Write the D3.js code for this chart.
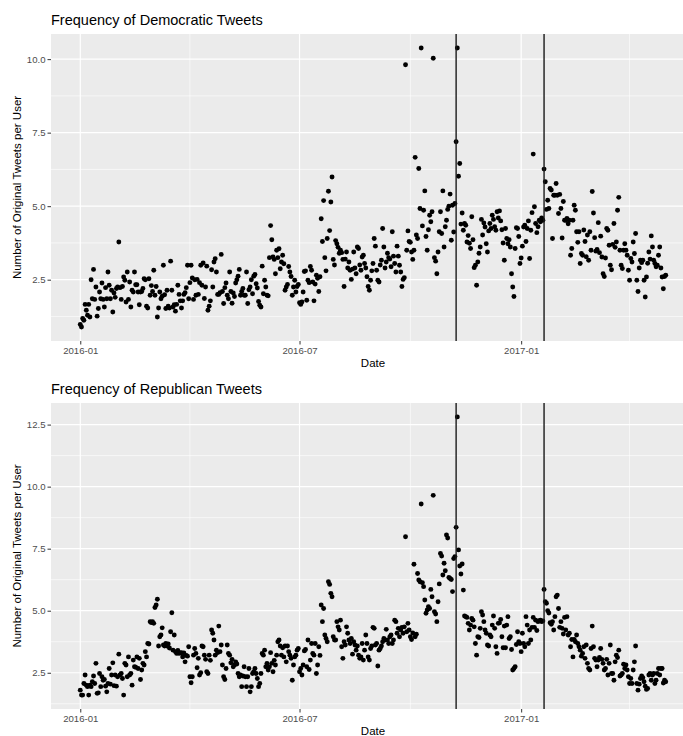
<!DOCTYPE html>
<html>
<head>
<meta charset="utf-8">
<script src="https://cdn.jsdelivr.net/npm/d3@7"></script>
<style>
  body { margin: 0; background: #fff; }
  svg { display: block; font-family: "Liberation Sans", Arial, sans-serif; }
</style>
</head>
<body>
<svg id="chart" width="683" height="736"></svg>
<script>
// one value per day, starting at startDate
const startDate = '2016-01-01';
const eventDates = ['2016-11-08', '2017-01-20'];
const xTickLabels = ['2016-01', '2016-07', '2017-01'];
const xMinorLabels = ['2016-04', '2016-10', '2017-04'];
const demTicks = [2.5, 5, 7.5, 10];
const repTicks = [2.5, 5, 7.5, 10, 12.5];

const demFreq = [
  // 2016-01
  0.98,0.89,1.18,1.12,1.66,1.46,1.29,1.66,1.23,2.50,1.85,2.85,1.83,2.25,1.26,1.52,2.08,1.85,2.39,1.83,1.57,2.23,1.85,2.76,2.31,1.85,2.14,1.40,2.05,1.90,2.20,
  // 2016-02
  2.25,3.78,2.23,1.83,2.27,2.59,2.48,1.74,2.76,1.83,2.42,1.57,2.14,2.08,2.76,2.33,2.33,2.08,1.65,2.08,2.10,2.20,2.53,2.50,1.60,1.54,2.53,1.97,2.30,
  // 2016-03
  2.10,2.82,1.97,2.27,1.23,1.54,2.08,1.85,1.94,2.99,1.99,1.52,2.14,1.60,1.54,3.13,2.14,1.57,1.65,1.43,1.66,2.31,2.00,1.78,1.54,1.78,2.00,2.06,2.23,2.99,1.85,
  // 2016-04
  2.40,2.99,2.56,1.83,2.50,1.97,2.51,2.00,2.40,2.99,2.31,3.07,1.86,2.25,2.96,1.46,1.60,1.78,2.84,2.25,3.10,3.21,2.76,2.00,2.00,2.06,3.36,2.10,1.69,2.23,
  // 2016-05
  2.39,1.97,1.85,2.76,2.10,1.70,2.05,1.93,2.39,2.50,2.62,2.85,1.97,2.10,2.20,1.97,1.97,2.76,1.69,2.16,2.25,2.50,2.02,2.62,2.68,2.36,2.22,1.76,1.63,1.57,2.96,
  // 2016-06
  2.02,2.48,2.25,1.97,1.95,3.25,4.34,3.86,3.27,3.19,2.70,3.50,3.25,3.55,2.87,3.10,3.33,3.04,2.14,2.25,2.34,2.95,2.76,2.61,1.97,2.25,2.48,2.08,2.27,2.34,
  // 2016-07
  1.72,1.66,1.74,2.08,2.78,2.80,1.80,2.48,2.40,2.95,2.82,2.42,1.78,2.35,2.65,2.55,2.10,2.60,4.57,3.80,5.19,3.25,2.80,3.90,5.51,4.17,5.14,5.99,3.19,3.00,3.83,
  // 2016-08
  3.72,3.60,3.40,3.50,3.42,3.19,2.27,3.20,3.44,2.90,3.10,2.82,2.51,2.86,3.44,2.90,2.70,3.61,3.56,3.00,2.82,3.27,3.33,3.05,2.90,2.60,2.27,2.14,2.48,2.80,3.05,
  // 2016-09
  3.90,3.64,2.82,2.48,2.42,3.00,3.16,4.24,3.61,2.90,3.10,3.40,3.25,3.20,2.94,4.13,3.30,3.05,2.76,3.64,3.30,2.99,2.76,2.27,2.51,2.57,9.81,3.50,4.16,3.80,
  // 2016-10
  3.77,3.44,3.19,3.50,6.66,4.02,3.90,6.28,4.92,10.38,4.33,4.86,5.52,3.97,3.50,4.20,4.69,4.47,4.81,10.03,3.25,3.13,2.70,3.44,4.13,4.81,4.07,5.52,3.61,4.30,4.52,
  // 2016-11
  4.89,5.00,5.41,3.84,5.03,4.12,5.09,7.19,10.38,6.02,6.45,4.39,4.77,4.18,4.41,4.35,3.78,4.00,3.74,3.56,4.64,3.86,2.91,2.99,2.31,3.10,3.40,3.61,4.55,4.02,
  // 2016-12
  4.43,4.29,3.72,3.44,4.16,4.41,4.24,4.69,4.55,4.30,4.18,4.81,4.60,4.84,4.50,4.20,3.75,3.16,4.24,3.90,3.72,3.86,3.61,2.70,2.25,1.93,3.56,4.27,4.24,3.97,3.05,
  // 2017-01
  3.24,3.64,4.29,4.35,3.80,4.24,4.50,3.22,4.18,4.78,6.77,4.98,4.41,4.10,4.30,4.52,4.47,4.60,4.52,6.26,5.83,4.89,5.20,4.92,5.60,5.55,3.90,5.37,5.37,5.77,5.37,
  // 2017-02
  4.75,5.40,4.92,3.92,5.16,4.52,4.52,4.58,4.40,4.52,3.33,3.56,4.52,5.03,4.86,4.13,3.77,4.13,3.05,3.39,3.33,4.19,3.80,3.28,4.02,3.16,4.13,3.50,
  // 2017-03
  5.50,4.77,3.93,3.47,3.53,4.44,3.42,3.98,3.27,2.70,2.61,3.24,4.24,4.18,3.67,2.99,2.84,3.70,4.41,3.60,3.78,4.86,5.30,3.50,2.99,2.88,3.50,3.72,3.50,3.33,2.82,
  // 2017-04
  2.48,3.22,3.10,3.78,3.39,4.07,2.48,2.10,2.90,3.16,3.08,3.16,2.48,1.91,2.59,3.06,3.44,3.20,3.99,3.61,3.16,3.05,2.94,2.99,3.33,3.61,2.90,2.59,2.19,2.61,
  // 2017-05
  2.65
];

const repFreq = [
  // 2016-01
  1.80,1.60,1.60,2.07,2.41,2.00,1.94,1.60,2.00,1.94,2.14,2.37,2.07,2.88,1.67,1.69,2.47,1.94,2.34,2.20,2.23,1.96,1.73,2.07,2.67,2.04,2.41,2.90,1.98,2.41,1.96,
  // 2016-02
  2.34,3.25,2.41,2.47,2.27,1.60,2.88,2.81,2.34,3.14,2.41,2.47,2.00,3.01,2.74,2.72,3.14,2.67,3.08,2.23,2.61,2.88,2.81,3.35,3.14,3.68,3.66,4.56,4.52,
  // 2016-03
  4.56,4.49,5.13,5.23,5.46,3.58,3.95,4.02,4.31,3.62,3.58,3.68,3.58,3.66,3.50,4.15,4.92,3.41,4.02,3.35,3.28,3.40,3.28,3.30,3.31,3.14,3.30,2.94,3.20,3.17,3.55,
  // 2016-04
  2.34,2.10,2.34,3.21,3.48,3.28,2.70,3.08,2.41,2.50,3.58,3.55,3.21,3.04,2.54,2.47,3.21,3.00,4.22,4.09,3.82,3.21,3.41,3.31,4.38,3.35,3.62,2.81,2.34,2.23,
  // 2016-05
  2.67,3.62,3.28,3.21,2.90,3.04,2.74,2.81,2.94,2.85,2.47,2.34,2.41,1.94,2.37,2.74,2.34,1.94,2.34,2.67,1.73,1.94,2.47,2.54,2.67,2.47,2.27,1.94,2.07,2.47,3.28,
  // 2016-06
  3.21,3.41,2.74,2.88,2.61,2.74,3.31,2.88,2.54,3.00,2.81,3.21,3.75,3.82,3.58,3.21,3.51,3.14,3.58,2.94,3.58,3.35,3.21,3.08,2.20,2.81,3.14,3.21,3.41,3.48,
  // 2016-07
  2.54,2.67,2.41,2.81,3.38,3.44,2.74,3.82,2.63,3.01,3.68,3.28,3.21,3.68,2.47,2.81,3.55,3.20,5.23,4.56,5.09,4.02,3.88,3.75,6.17,6.06,5.70,5.56,3.95,3.82,3.82,
  // 2016-08
  4.56,4.35,4.22,4.62,3.55,3.08,3.75,3.62,4.35,4.09,3.82,3.68,3.88,3.25,3.75,3.62,3.41,3.58,3.21,3.08,3.14,3.68,3.01,3.41,4.02,3.68,3.14,3.01,3.48,3.58,4.33,
  // 2016-09
  4.29,3.62,3.68,2.77,3.41,3.48,3.58,3.75,3.88,3.82,4.25,3.82,3.68,3.95,4.02,3.68,3.82,4.62,4.56,4.09,4.29,3.95,4.22,4.33,4.09,4.35,7.98,4.15,4.49,4.22,
  // 2016-10
  3.95,3.84,4.10,6.87,3.95,4.05,6.50,6.24,6.17,9.30,6.13,5.97,5.43,4.90,5.03,5.16,5.09,5.86,5.56,9.65,4.96,4.87,4.56,5.36,6.08,7.31,7.20,6.44,6.91,6.61,8.05,
  // 2016-11
  7.93,6.34,6.30,6.26,5.77,7.10,7.18,8.36,12.81,7.45,6.80,6.48,6.88,5.83,4.79,4.76,4.73,4.49,4.22,4.42,4.69,4.62,4.35,3.68,3.21,3.95,3.92,4.29,4.96,4.83,
  // 2016-12
  4.56,4.22,4.09,3.62,3.58,4.02,3.95,4.42,4.79,4.29,3.55,3.28,4.49,4.51,4.65,3.95,3.51,4.38,3.51,4.42,4.76,3.88,3.95,3.44,2.61,2.67,2.74,3.64,4.15,3.75,3.68,
  // 2017-01
  3.35,4.09,3.68,3.55,4.76,4.42,3.68,4.22,3.82,4.33,4.73,4.33,4.62,4.20,4.56,4.60,4.62,4.56,4.59,5.86,5.36,5.30,5.00,4.91,4.52,4.45,4.56,4.22,4.76,5.56,5.63,
  // 2017-02
  5.09,4.33,4.56,4.29,4.06,4.73,4.22,4.76,4.02,4.09,3.55,3.84,3.14,3.84,3.75,4.02,3.68,3.55,3.41,3.17,3.28,3.55,3.08,3.62,2.88,2.67,2.61,3.48,
  // 2017-03
  4.38,3.55,3.08,3.01,2.74,3.01,3.12,3.48,3.04,2.88,2.61,2.67,3.04,2.41,2.88,3.62,2.47,2.47,2.20,2.94,3.21,3.11,3.41,2.37,2.41,2.47,2.84,2.67,2.81,2.61,2.34,
  // 2017-04
  2.07,2.27,2.07,2.61,2.94,3.58,2.07,1.80,2.04,2.27,2.37,2.30,2.14,1.96,1.83,1.87,2.41,2.47,2.20,2.41,2.47,2.07,2.20,2.47,2.67,2.41,2.67,2.67,2.09,2.20,
  // 2017-05
  2.14
];

const panels = [
  { title: 'Frequency of Democratic Tweets', values: demFreq, ticks: demTicks, top: 34, bottom: 341, titleY: 25 },
  { title: 'Frequency of Republican Tweets', values: repFreq, ticks: repTicks, top: 403, bottom: 709, titleY: 394 },
];

const left = 51;
const panelW = 644;
const parseDay = d3.utcParse('%Y-%m-%d');
const parseMonth = d3.utcParse('%Y-%m');

const svg = d3.select('#chart');
svg.append('defs').append('clipPath').attr('id', 'pageclip')
  .append('rect').attr('x', 0).attr('y', 0).attr('width', 683).attr('height', 736);

function drawPanel(p) {
  const start = parseDay(startDate);
  const points = p.values.map((v, i) => ({ date: d3.utcDay.offset(start, i), value: v }));

  // ggplot style 5% expansion
  const [d0, d1] = d3.extent(points, d => d.date);
  const padX = (d1 - d0) * 0.05;
  const x = d3.scaleUtc()
    .domain([new Date(+d0 - padX), new Date(+d1 + padX)])
    .range([left, left + panelW]);

  const [v0, v1] = d3.extent(p.values);
  const padY = (v1 - v0) * 0.05;
  const y = d3.scaleLinear().domain([v0 - padY, v1 + padY]).range([p.bottom, p.top]);

  const g = svg.append('g').attr('clip-path', 'url(#pageclip)');

  // panel background
  g.append('rect')
    .attr('x', left).attr('y', p.top)
    .attr('width', panelW).attr('height', p.bottom - p.top)
    .attr('fill', '#EBEBEB');

  // minor grid
  const step = p.ticks[1] - p.ticks[0];
  const yMinor = [p.ticks[0] - step / 2].concat(p.ticks.map(t => t + step / 2))
    .filter(t => t > y.domain()[0] && t < y.domain()[1]);
  g.selectAll('.ymin').data(yMinor).enter().append('line')
    .attr('x1', left).attr('x2', left + panelW)
    .attr('y1', d => y(d)).attr('y2', d => y(d))
    .attr('stroke', '#fff').attr('stroke-width', 0.6);
  g.selectAll('.xmin').data(xMinorLabels.map(parseMonth)).enter().append('line')
    .attr('x1', d => x(d)).attr('x2', d => x(d))
    .attr('y1', p.top).attr('y2', p.bottom)
    .attr('stroke', '#fff').attr('stroke-width', 0.6);

  // major grid
  g.selectAll('.ymaj').data(p.ticks).enter().append('line')
    .attr('x1', left).attr('x2', left + panelW)
    .attr('y1', d => y(d)).attr('y2', d => y(d))
    .attr('stroke', '#fff').attr('stroke-width', 1.2);
  g.selectAll('.xmaj').data(xTickLabels.map(parseMonth)).enter().append('line')
    .attr('x1', d => x(d)).attr('x2', d => x(d))
    .attr('y1', p.top).attr('y2', p.bottom)
    .attr('stroke', '#fff').attr('stroke-width', 1.2);

  // points
  g.selectAll('.pt').data(points).enter().append('circle')
    .attr('cx', d => x(d.date))
    .attr('cy', d => y(d.value))
    .attr('r', 2.45)
    .attr('fill', '#000');

  // event lines
  g.selectAll('.ev').data(eventDates.map(parseDay)).enter().append('line')
    .attr('x1', d => x(d)).attr('x2', d => x(d))
    .attr('y1', p.top).attr('y2', p.bottom)
    .attr('stroke', '#1a1a1a').attr('stroke-width', 1.4);

  // axes
  const yAxis = g.append('g').attr('transform', `translate(${left},0)`)
    .call(d3.axisLeft(y).tickValues(p.ticks).tickFormat(d3.format('.1f')).tickSize(3.5).tickPadding(2));
  const xAxis = g.append('g').attr('transform', `translate(0,${p.bottom})`)
    .call(d3.axisBottom(x).tickValues(xTickLabels.map(parseMonth)).tickFormat(d3.utcFormat('%Y-%m')).tickSize(3.5).tickPadding(2.5));
  [yAxis, xAxis].forEach(a => {
    a.select('.domain').remove();
    a.attr('font-family', null).attr('font-size', null);
    a.selectAll('line').attr('stroke', '#333').attr('stroke-width', 1);
    a.selectAll('text').attr('fill', '#4D4D4D').style('font-size', '9.6px');
  });

  // titles
  g.append('text')
    .attr('x', left).attr('y', p.titleY)
    .style('font-size', '14.5px').attr('fill', '#000')
    .text(p.title);
  g.append('text')
    .attr('x', left + panelW / 2).attr('y', p.bottom + 25.5)
    .attr('text-anchor', 'middle')
    .style('font-size', '11.5px').attr('fill', '#000')
    .text('Date');
  g.append('text')
    .attr('transform', `translate(20.5,${(p.top + p.bottom) / 2}) rotate(-90)`)
    .attr('text-anchor', 'middle')
    .style('font-size', '11.5px').attr('fill', '#000')
    .text('Number of Original Tweets per User');
}

panels.forEach(drawPanel);
</script>
</body>
</html>
